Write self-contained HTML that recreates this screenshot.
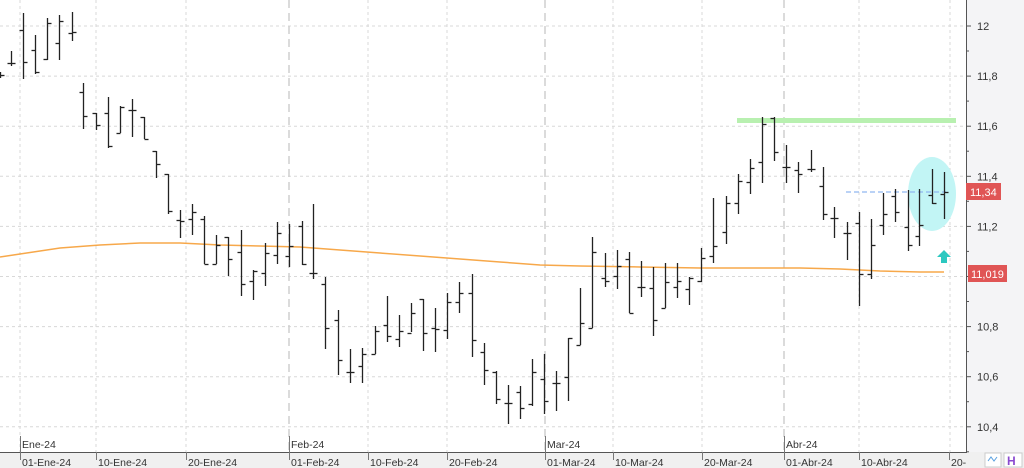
<!DOCTYPE html>
<html><head><meta charset="utf-8"><style>
html,body{margin:0;padding:0;background:#fff;width:1024px;height:468px;overflow:hidden}
svg{display:block;font-family:"Liberation Sans",sans-serif}
</style></head><body>
<svg id="s" width="1024" height="468" xmlns="http://www.w3.org/2000/svg">
<rect x="0" y="0" width="1024" height="468" fill="#fff"/>
<rect x="967" y="0" width="57" height="452" fill="#f4f4f6"/>
<rect x="0" y="452" width="1024" height="16" fill="#f0f0f0"/>
<g id="grid" stroke="#d8d8d8" stroke-width="1" stroke-dasharray="3,3"></g>
<polyline fill="none" stroke="#f7a84a" stroke-width="1.5" points="0,257 20,254 60,248 100,245 140,243 180,243 220,245 260,246 300,247 340,250 380,253 420,256 460,259 500,262 540,265 580,266 640,267 700,268 760,268 800,268 840,269 880,271 920,272 944,272"/>
<rect x="737" y="118" width="219" height="5" fill="#b8f0b0"/>
<ellipse cx="932" cy="194" rx="24" ry="37" fill="#c2f5f5"/>
<line x1="846" y1="192" x2="946" y2="192" stroke="#90b8f0" stroke-width="1.3" stroke-dasharray="5,3"/>
<g id="bars" stroke="#222" stroke-width="1.3" fill="none"></g>
<polygon points="944,250 951,257 947,257 947,263 941,263 941,257 937,257" fill="#2cc8c0"/>
<line x1="966.5" y1="0" x2="966.5" y2="452" stroke="#555"/>
<line x1="0" y1="452.5" x2="967" y2="452.5" stroke="#555"/>
<g id="yax" font-size="11" fill="#333"></g>
<rect x="966" y="183" width="35" height="17" fill="#e05555"/>
<text x="970" y="196" font-size="11" fill="#fff">11,34</text>
<rect x="968" y="265" width="39" height="17" fill="#e05555"/>
<text x="971" y="278" font-size="11" fill="#fff">11,019</text>
<g id="xax" font-size="10.5" fill="#333"></g>
<rect x="985" y="453" width="16" height="14" fill="#fff" stroke="#ccc"/>
<polyline points="988,461 991,457 994,461 997,457" fill="none" stroke="#5aa0e0"/>
<rect x="1004" y="453" width="18" height="14" fill="#fff" stroke="#ccc"/>
<text x="1007" y="465" font-size="12" font-weight="bold" fill="#8a4ad0">H</text>
</svg>
<script>
var NS="http://www.w3.org/2000/svg";
function el(p,t,a,txt){var e=document.createElementNS(NS,t);for(var k in a)e.setAttribute(k,a[k]);if(txt!=null)e.textContent=txt;document.getElementById(p).appendChild(e);}
// horizontal grid
for(var i=0;i<9;i++){var y=26+50.1*i;el("grid","line",{x1:0,x2:966,y1:y,y2:y});}
[20,96,186,368,447,613,702,859,950].forEach(function(x){el("grid","line",{x1:x,x2:x,y1:0,y2:452});});
[289,545,784].forEach(function(x){el("grid","line",{x1:x,x2:x,y1:0,y2:452,"stroke-dasharray":"8,5",stroke:"#cfcfcf","stroke-width":1.5});});
// y axis
var labs=["12","11,8","11,6","11,4","11,2","11","10,8","10,6","10,4"];
for(var i=0;i<9;i++){var y=26+50.1*i;el("yax","text",{x:977,y:y+4},labs[i]);el("yax","line",{x1:966,x2:971,y1:y,y2:y,stroke:"#555"});
 el("yax","line",{x1:966,x2:969,y1:y+25,y2:y+25,stroke:"#555"});}
// x axis
[["Ene-24",22],["Feb-24",291],["Mar-24",547],["Abr-24",786]].forEach(function(a){el("xax","text",{x:a[1],y:448},a[0]);el("xax","line",{x1:a[1]-1.5,x2:a[1]-1.5,y1:436,y2:452,stroke:"#777"});});
[["01-Ene-24",22],["10-Ene-24",98],["20-Ene-24",188],["01-Feb-24",291],["10-Feb-24",370],["20-Feb-24",449],["01-Mar-24",547],["10-Mar-24",615],["20-Mar-24",704],["01-Abr-24",786],["10-Abr-24",861],["20-",951]].forEach(function(a){el("xax","text",{x:a[1],y:466},a[0]);el("xax","line",{x1:a[1]-1.5,x2:a[1]-1.5,y1:452,y2:460,stroke:"#777"});});
var B=[[0,72,78,75,75],[11,51,66,63,63],[23,13,79,30,62],[35,35,74,50,72],[47,18,60,59,23],[59,15,60,43,21],[72,12,41,33,32],
[83,83,129,92,116],[96,113,130,113,125],[108,97,148,113,146],[120,106,133,133,107],[132,99,137,110,110],[144,117,139,117,139],
[156,151,178,151,164],[168,174,214,174,211],[180,210,238,220,221],[192,204,235,219,212],[204,216,264,219,264],[216,235,264,264,245],
[228,237,276,237,259],[241,230,296,252,284],[253,270,300,281,271],[265,243,286,273,253],[277,222,264,255,233],[289,224,267,256,246],
[302,221,265,226,264],[313,204,279,273,273],[325,277,349,284,328],[338,310,375,320,360],[350,349,383,372,372],[362,348,383,366,354],
[375,326,354,354,331],[387,296,342,325,336],[399,315,347,339,331],[411,303,332,333,313],[423,299,351,299,333],[435,308,352,328,329],
[447,293,339,330,302],[459,282,313,302,293],[472,274,357,293,340],[484,343,385,352,370],[496,371,404,372,399],[508,385,424,403,403],
[520,386,419,392,408],[532,359,406,404,372],[544,354,414,379,401],[556,371,411,383,383],[568,338,401,377,338],[580,288,345,345,323],
[592,237,328,328,252],[605,253,287,278,281],[617,250,289,276,266],[629,252,313,259,313],[641,261,297,287,287],[653,267,336,288,320],
[665,263,308,308,282],[677,263,298,287,281],[689,277,305,289,278],[701,248,282,281,258],[713,198,263,256,246],[726,196,244,232,203],
[738,174,214,203,181],[750,159,194,182,168],[762,117,183,162,124],[774,117,161,118,152],[786,145,183,167,167],[798,162,193,170,174],
[811,150,172,169,169],[823,167,220,186,214],[834,207,238,218,218],[847,222,260,233,233],[859,212,306,223,274],[871,219,279,274,245],
[883,193,235,225,214],[895,189,222,196,212],[908,190,251,227,245],[919,189,246,236,225],[932,169,204,195,203],[944,172,219,194,192]];
B.forEach(function(b){var x=b[0]+0.5;el("bars","line",{x1:x,x2:x,y1:b[1],y2:b[2]});
 el("bars","line",{x1:x-4,x2:x,y1:b[3]+0.5,y2:b[3]+0.5});el("bars","line",{x1:x,x2:x+4,y1:b[4]+0.5,y2:b[4]+0.5});});
</script>
</body></html>
